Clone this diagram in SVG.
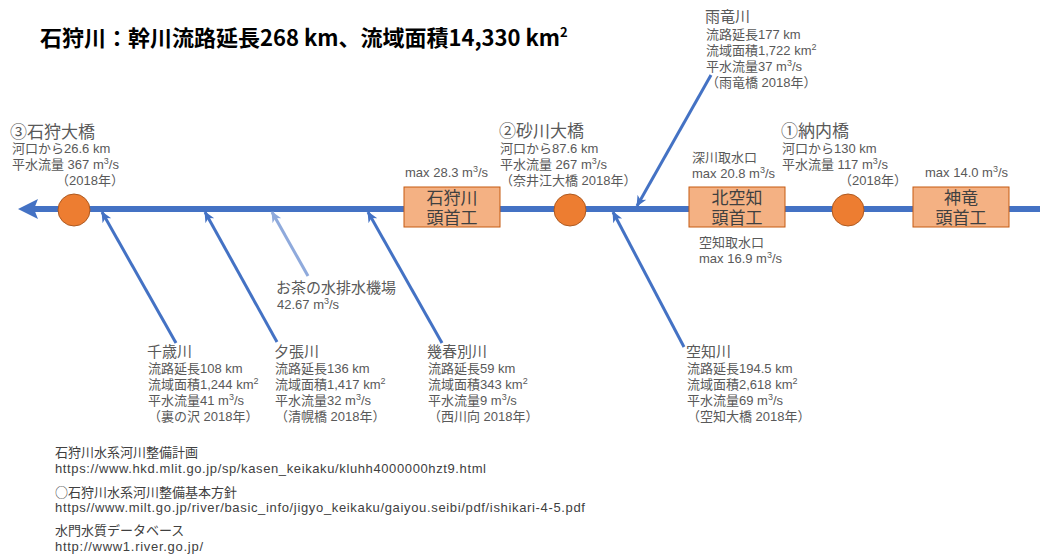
<svg xmlns="http://www.w3.org/2000/svg" width="1040" height="554" viewBox="0 0 1040 554">
<style>
text{font-family:"Liberation Sans","Noto Sans CJK JP",sans-serif;fill:#595959}
.title{font-family:"Noto Sans CJK JP",sans-serif;font-size:22px;font-weight:bold;fill:#000}
.tsup{font-size:13px}
.s{font-size:13px}
.n{font-size:17px}
.t{font-size:15px}
.ref{font-size:13px;fill:#404040}
.cjk{font-family:"Noto Sans CJK JP",sans-serif}
.box{fill:#F4B183;stroke:#C55A11;stroke-width:1}
.bt{font-size:17px;fill:#404040;text-anchor:middle}
.dot{fill:#ED7D31;stroke:#AE5A21;stroke-width:1}
.sup{font-size:9px}
.trib{stroke:#4472C4;stroke-width:3;fill:none;marker-end:url(#ah)}
.trib2{stroke:#8FAADC;stroke-width:3;fill:none;marker-end:url(#ah2)}
</style>
<defs>
<marker id="ah" markerUnits="userSpaceOnUse" markerWidth="12" markerHeight="12" viewBox="0 0 12 12" refX="10" refY="6" orient="auto">
<path d="M0,1 L11,6 L0,11 L3,6 z" fill="#4472C4"/>
</marker>
<marker id="ah2" markerUnits="userSpaceOnUse" markerWidth="12" markerHeight="12" viewBox="0 0 12 12" refX="10" refY="6" orient="auto">
<path d="M0,1 L11,6 L0,11 L3,6 z" fill="#8FAADC"/>
</marker>
</defs>
<rect width="1040" height="554" fill="#fff"/>

<text class="title" x="40" y="46">石狩川：幹川流路延長268 km、流域面積14,330 km<tspan class="tsup" dy="-9">2</tspan></text>

<g id="connectors">
<line x1="1040" y1="209" x2="34" y2="209" stroke="#4472C4" stroke-width="6"/>
<path d="M18,209 L38,199 L34,209 L38,219 z" fill="#4472C4"/>
<line class="trib" x1="176" y1="343" x2="102" y2="212"/>
<line class="trib" x1="277" y1="342" x2="205" y2="212"/>
<line class="trib2" x1="308" y1="276" x2="272" y2="212"/>
<line class="trib" x1="442" y1="343" x2="368" y2="212"/>
<line class="trib" x1="684" y1="347" x2="613" y2="212"/>
<line class="trib" x1="711" y1="75" x2="637" y2="206"/>
</g>

<g id="ishikari-ohashi">
<circle class="dot" cx="74" cy="210" r="16"/>
<text class="n" x="10" y="138">③石狩大橋</text>
<text class="s" x="12" y="153">河口から26.6 km</text>
<text class="s" x="12" y="169">平水流量 367 m<tspan class="sup" dy="-5">3</tspan><tspan dy="5">/s</tspan></text>
<text class="s" x="56" y="185">（2018年）</text>
</g>

<g id="sunagawa-ohashi">
<circle class="dot" cx="570" cy="210" r="16"/>
<text class="n" x="499" y="137">②砂川大橋</text>
<text class="s" x="500" y="153">河口から87.6 km</text>
<text class="s" x="500" y="169">平水流量 267 m<tspan class="sup" dy="-5">3</tspan><tspan dy="5">/s</tspan></text>
<text class="s" x="500" y="185">（奈井江大橋 2018年）</text>
</g>

<g id="nounai-bashi">
<circle class="dot" cx="848" cy="210" r="16"/>
<text class="n" x="781" y="137">①納内橋</text>
<text class="s" x="782" y="153">河口から130 km</text>
<text class="s" x="782" y="169">平水流量 117 m<tspan class="sup" dy="-5">3</tspan><tspan dy="5">/s</tspan></text>
<text class="s" x="839" y="185">（2018年）</text>
</g>

<g id="ishikari-tokoko">
<rect class="box" x="404" y="187" width="96" height="40"/>
<text class="bt" x="452" y="204">石狩川</text>
<text class="bt" x="452" y="224">頭首工</text>
<text class="s" x="405" y="177">max 28.3 m<tspan class="sup" dy="-5">3</tspan><tspan dy="5">/s</tspan></text>
</g>

<g id="kitasorachi-tokoko">
<rect class="box" x="689" y="187" width="96" height="40"/>
<text class="bt" x="737" y="204">北空知</text>
<text class="bt" x="737" y="224">頭首工</text>
<text class="s" x="692" y="162">深川取水口</text>
<text class="s" x="692" y="178">max 20.8 m<tspan class="sup" dy="-5">3</tspan><tspan dy="5">/s</tspan></text>
<text class="s" x="699" y="247">空知取水口</text>
<text class="s" x="699" y="263">max 16.9 m<tspan class="sup" dy="-5">3</tspan><tspan dy="5">/s</tspan></text>
</g>

<g id="shinryu-tokoko">
<rect class="box" x="913" y="187" width="96" height="40"/>
<text class="bt" x="961" y="204">神竜</text>
<text class="bt" x="961" y="224">頭首工</text>
<text class="s" x="925" y="177">max 14.0 m<tspan class="sup" dy="-5">3</tspan><tspan dy="5">/s</tspan></text>
</g>

<g id="uryu-gawa">
<text class="t" x="705" y="22">雨竜川</text>
<text class="s" x="706" y="39">流路延長177 km</text>
<text class="s" x="706" y="55">流域面積1,722 km<tspan class="sup" dy="-5">2</tspan></text>
<text class="s" x="706" y="71">平水流量37 m<tspan class="sup" dy="-5">3</tspan><tspan dy="5">/s</tspan></text>
<text class="s" x="706" y="87">（雨竜橋 2018年）</text>
</g>

<g id="chitose-gawa">
<text class="t" x="147" y="357">千歳川</text>
<text class="s" x="148" y="373">流路延長108 km</text>
<text class="s" x="148" y="389">流域面積1,244 km<tspan class="sup" dy="-5">2</tspan></text>
<text class="s" x="148" y="405">平水流量41 m<tspan class="sup" dy="-5">3</tspan><tspan dy="5">/s</tspan></text>
<text class="s" x="148" y="421">（裏の沢 2018年）</text>
</g>

<g id="yubari-gawa">
<text class="t" x="274" y="357">夕張川</text>
<text class="s" x="275" y="373">流路延長136 km</text>
<text class="s" x="275" y="389">流域面積1,417 km<tspan class="sup" dy="-5">2</tspan></text>
<text class="s" x="275" y="405">平水流量32 m<tspan class="sup" dy="-5">3</tspan><tspan dy="5">/s</tspan></text>
<text class="s" x="275" y="421">（清幌橋 2018年）</text>
</g>

<g id="ochanomizu">
<text class="t" x="276" y="293">お茶の水排水機場</text>
<text class="s" x="277" y="309">42.67 m<tspan class="sup" dy="-5">3</tspan><tspan dy="5">/s</tspan></text>
</g>

<g id="ikushunbetsu-gawa">
<text class="t" x="427" y="357">幾春別川</text>
<text class="s" x="428" y="373">流路延長59 km</text>
<text class="s" x="428" y="389">流域面積343 km<tspan class="sup" dy="-5">2</tspan></text>
<text class="s" x="428" y="405">平水流量9 m<tspan class="sup" dy="-5">3</tspan><tspan dy="5">/s</tspan></text>
<text class="s" x="428" y="421">（西川向 2018年）</text>
</g>

<g id="sorachi-gawa">
<text class="t" x="686" y="357">空知川</text>
<text class="s" x="687" y="373">流路延長194.5 km</text>
<text class="s" x="687" y="389">流域面積2,618 km<tspan class="sup" dy="-5">2</tspan></text>
<text class="s" x="687" y="405">平水流量69 m<tspan class="sup" dy="-5">3</tspan><tspan dy="5">/s</tspan></text>
<text class="s" x="687" y="421">（空知大橋 2018年）</text>
</g>

<g id="references">
<text class="ref" x="55" y="457">石狩川水系河川整備計画</text>
<text class="ref" x="55" y="473" textLength="431" lengthAdjust="spacing">https://www.hkd.mlit.go.jp/sp/kasen_keikaku/kluhh4000000hzt9.html</text>
<text class="ref" x="55" y="497"><tspan class="cjk">○</tspan>石狩川水系河川整備基本方針</text>
<text class="ref" x="55" y="512" textLength="530" lengthAdjust="spacing">https//www.milt.go.jp/river/basic_info/jigyo_keikaku/gaiyou.seibi/pdf/ishikari-4-5.pdf</text>
<text class="ref" x="55" y="535">水門水質データベース</text>
<text class="ref" x="55" y="551" textLength="148" lengthAdjust="spacing">http://www1.river.go.jp/</text>
</g>
</svg>
